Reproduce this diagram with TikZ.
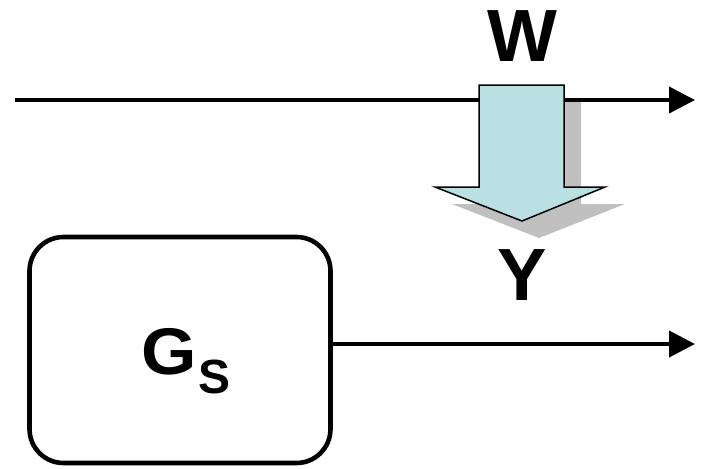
\documentclass[tikz,border=0pt]{standalone}
\usepackage{fontspec}
\setmainfont{Liberation Sans}
\usetikzlibrary{arrows.meta}
\definecolor{flowblue}{RGB}{186,224,228}
\definecolor{shadowgray}{RGB}{192,192,192}
\begin{document}
\begin{tikzpicture}[x=0.5pt,y=-0.5pt]
\tikzstyle{sig}=[line width=2pt,-{Triangle[length=13pt,width=13pt]}]
\tikzstyle{lbl}=[font=\fontsize{37}{37}\selectfont\bfseries,inner sep=0pt]
\tikzstyle{plant}=[draw,line width=2.3pt,rounded corners=17pt,minimum width=150.5pt,minimum height=113pt,inner sep=0pt]
\useasboundingbox (0,0) rectangle (703,468);

\coordinate (in) at (15,100);
\coordinate (out) at (695,100);
\draw[sig] (in) -- (out);

%shadow and the block arrow
\fill[shadowgray] (496,102) -- (581,102) -- (581,204) -- (625,204) -- (539,238) -- (452,204) -- (496,204) -- cycle;
\draw[fill=flowblue,line width=0.75pt] (479,85) -- (564,85) -- (564,187) -- (605,187) -- (522,221) -- (435,187) -- (479,187) -- cycle;

\node[lbl] (w) at (522,36) {W};
\node[lbl] (y) at (522,275) {Y};

\node[plant] (gs) at (180,350) {\raisebox{-12pt}[0pt][0pt]{\hspace{6pt}\scalebox{1.08}[1]{\fontsize{33}{33}\selectfont\bfseries G}\kern1pt\raisebox{-9.5pt}{\fontsize{24}{24}\selectfont\bfseries S}}};
\coordinate (gsout) at (695,344);
\draw[sig] (gs.east |- gsout) -- (gsout);

\end{tikzpicture}
\end{document}
